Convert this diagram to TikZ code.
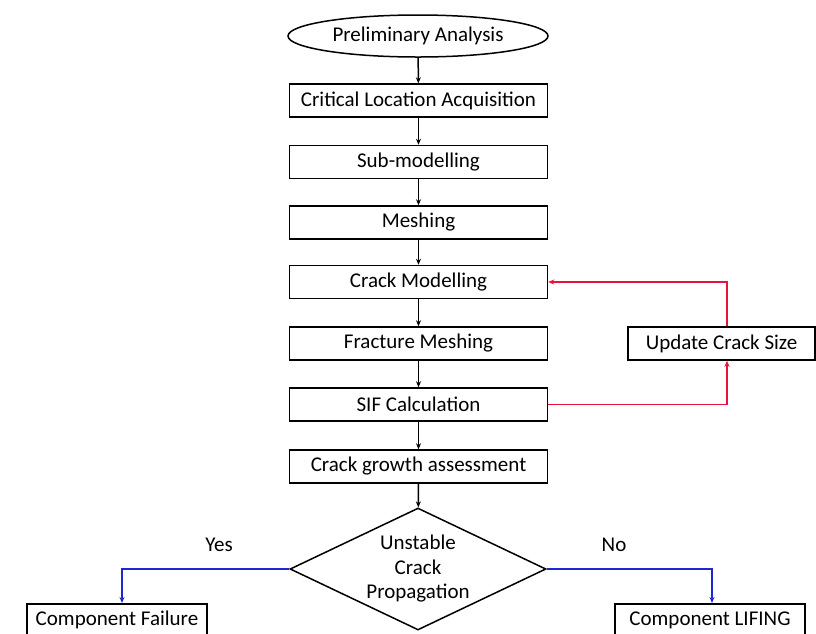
\documentclass[tikz,border=0pt]{standalone}
\usepackage{fontspec}
\setmainfont{Carlito}
\usetikzlibrary{shapes.geometric,arrows.meta}
\begin{document}
\begin{tikzpicture}[x=1pt,y=-1pt,
  font=\fontsize{21}{24.5}\selectfont,
  box/.style={draw,line width=1.5pt,rectangle,minimum height=33pt,inner sep=0pt},
  flow/.style={line width=1.5pt,-{Stealth[length=6pt,width=5pt]}},
  redflow/.style={flow,draw={rgb,255:red,230;green,20;blue,60}},
  blueflow/.style={flow,draw={rgb,255:red,30;green,40;blue,210}},
  lbl/.style={inner sep=0pt}]
\useasboundingbox (0,0) rectangle (816,633);
\clip (0,0) rectangle (816,633);
\node[draw,line width=1.5pt,ellipse,minimum width=260pt,minimum height=42pt,inner sep=0pt] (pa) at (418,36) {Preliminary Analysis};
\node[box,minimum width=258pt] (cla) at (418.5,100.5) {Critical Location Acquisition};
\node[box,minimum width=258pt] (sub) at (418.5,162) {Sub-modelling};
\node[box,minimum width=258pt] (mesh) at (418.5,222.5) {Meshing};
\node[box,minimum width=258pt] (cm) at (418.5,282) {Crack Modelling};
\node[box,minimum width=258pt] (fm) at (418.5,343.5) {Fracture Meshing};
\node[box,minimum width=258pt] (sif) at (418.5,404.5) {SIF Calculation};
\node[box,minimum width=258pt] (cga) at (418.5,466.5) {Crack growth assessment};
\node[box,minimum width=187pt] (ucs) at (721.5,343.5) {Update Crack Size};
\node[draw,line width=1.5pt,diamond,aspect=2.1,minimum width=256pt,minimum height=122pt,inner sep=0pt,align=center] (dec) at (418,569) {Unstable\\Crack\\Propagation};
\node[box,minimum width=180pt,minimum height=40pt,anchor=north] (cf) at (117,603) {};
\node[lbl] at (117,620) {Component Failure};
\node[box,minimum width=190pt,minimum height=40pt,anchor=north] (cl) at (710,603) {};
\node[lbl] at (710,620) {Component LIFING};
\node[lbl] at (219,545) {Yes};
\node[lbl] at (614,545) {No};
\coordinate (ry) at (727,0);
\draw[flow] (pa) -- (cla);
\draw[flow] (cla) -- (sub);
\draw[flow] (sub) -- (mesh);
\draw[flow] (mesh) -- (cm);
\draw[flow] (cm) -- (fm);
\draw[flow] (fm) -- (sif);
\draw[flow] (sif) -- (cga);
\draw[flow] (cga) -- (dec);
\draw[redflow] (sif.east) -| (ucs.south -| ry);
\draw[redflow] (ucs.north -| ry) |- (cm.east);
\draw[blueflow] (dec.west) -| (cf.north -| 122,0);
\draw[blueflow] (dec.east) -| (cl.north -| 712,0);
\end{tikzpicture}
\end{document}
